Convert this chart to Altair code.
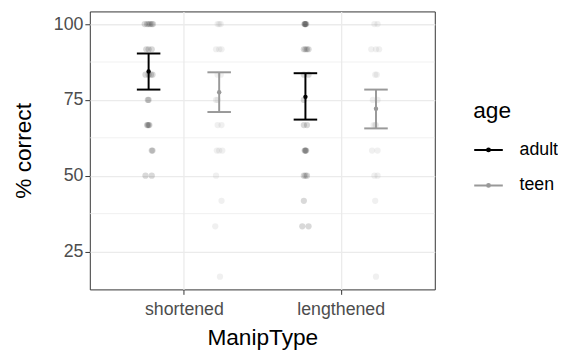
import altair as alt
import pandas as pd

categories = ["shortened", "lengthened"]
ages = ["adult", "teen"]
age_colors = ["#000000", "#999999"]
dodge = {"adult": -0.225, "teen": 0.225}

# raw scores (% correct) per group, with small horizontal jitter (category units)
sa_vals = [100, 100, 100, 100, 100, 100, 91.7, 91.7, 91.7, 83.3, 83.3, 83.3, 83.3,
           75, 75, 66.7, 66.7, 66.7, 66.7, 58.3, 58.3, 50, 50]
sa_jit = [-0.025, -0.01, 0.0, 0.01, 0.02, 0.028, -0.015, 0.0, 0.02, -0.02, 0.0, 0.015, 0.025,
          -0.005, 0.0, -0.01, -0.005, 0.0, 0.005, 0.02, 0.025, -0.02, 0.02]
st_vals = [100, 100, 100, 91.7, 91.7, 91.7, 83.3, 83.3, 75, 75, 66.7, 66.7,
           58.3, 58.3, 58.3, 50, 41.7, 33.3, 16.7]
st_jit = [-0.01, 0.0, 0.01, -0.02, 0.0, 0.015, -0.01, 0.01, -0.02, -0.01, -0.01, 0.015,
          -0.015, 0.0, 0.02, -0.02, 0.015, -0.025, 0.005]
la_vals = [100, 100, 100, 100, 100, 91.7, 91.7, 91.7, 91.7, 83.3, 83.3, 75, 66.7, 66.7,
           58.3, 58.3, 58.3, 58.3, 50, 50, 50, 41.7, 33.3, 33.3]
la_jit = [-0.005, 0.0, 0.005, 0.0, -0.005, -0.01, 0.0, 0.01, 0.02, -0.01, 0.02, -0.01, -0.01, 0.01,
          0.0, -0.005, 0.005, 0.0, -0.01, 0.0, 0.01, -0.01, -0.02, 0.02]
lt_vals = [100, 100, 91.7, 91.7, 91.7, 83.3, 83.3, 75, 75, 66.7, 66.7, 66.7,
           58.3, 58.3, 50, 50, 41.7, 16.7]
lt_jit = [-0.01, 0.01, -0.03, 0.0, 0.02, -0.005, 0.005, -0.02, 0.01, -0.015, -0.005, 0.0,
          -0.025, 0.01, -0.01, 0.01, -0.005, 0.0]

# summary: mean and interval per group
sum_cat = ["shortened", "shortened", "lengthened", "lengthened"]
sum_age = ["adult", "teen", "adult", "teen"]
sum_mean = [84.4, 77.5, 76.0, 72.1]
sum_lo = [78.4, 71.0, 68.5, 65.6]
sum_hi = [90.3, 84.1, 83.8, 78.4]

y_ticks = [25, 50, 75, 100]
y_minor = [37.5, 62.5, 87.5]

groups = [("shortened", "adult", sa_vals, sa_jit), ("shortened", "teen", st_vals, st_jit),
          ("lengthened", "adult", la_vals, la_jit), ("lengthened", "teen", lt_vals, lt_jit)]
rows = []
for cat, age, vals, jits in groups:
    for v, j in zip(vals, jits):
        rows.append({"ManipType": cat, "age": age, "val": v,
                     "pos": categories.index(cat) + 1 + dodge[age] + j})
pts = pd.DataFrame(rows)

summ = pd.DataFrame({"ManipType": sum_cat, "age": sum_age, "mean": sum_mean,
                     "lo": sum_lo, "hi": sum_hi})
summ["pos"] = [categories.index(c) + 1 + dodge[a] for c, a in zip(sum_cat, sum_age)]
summ["cl"] = summ["pos"] - 0.075
summ["cr"] = summ["pos"] + 0.075

minor_df = pd.DataFrame({"y": y_minor})

label_expr = " : ".join(f"datum.value == {i + 1} ? '{c}'" for i, c in enumerate(categories[:-1]))
label_expr += f" : '{categories[-1]}'"

xscale = alt.Scale(domain=[0.4, 2.6], nice=False, zero=False)
yscale = alt.Scale(domain=[12.5, 104.17], nice=False, zero=False)
xaxis = alt.Axis(values=[1, 2], labelExpr=label_expr, title="ManipType", grid=True,
                 labelPadding=6, titlePadding=9)
yaxis = alt.Axis(values=y_ticks, title="% correct", grid=True, labelPadding=2, titlePadding=18)
cscale = alt.Scale(domain=ages, range=age_colors)

legend = alt.Legend(
    title="age", orient="none", legendX=389, legendY=90, padding=0,
    symbolType="M-1,0L1,0 M-0.1,0 A0.1,0.1 0 1,0 0.1,0 A0.1,0.1 0 1,0 -0.1,0",
    symbolSize=841, symbolStrokeWidth=2, symbolOpacity=1,
    rowPadding=11, labelOffset=16,
    titleFontSize=23, titleFontWeight="normal", titleColor="black", titlePadding=12,
    labelFontSize=18, labelColor="black", titleFont="Liberation Sans", labelFont="Liberation Sans",
)

color = alt.Color("age:N", scale=cscale, legend=legend)

minor = alt.Chart(minor_df).mark_rule(color="#EBEBEB", strokeWidth=0.7).encode(
    y=alt.Y("y:Q", scale=yscale, axis=yaxis))

points = alt.Chart(pts).mark_circle(size=40, opacity=0.15).encode(
    x=alt.X("pos:Q", scale=xscale, axis=xaxis),
    y=alt.Y("val:Q", scale=yscale, axis=yaxis),
    color=color,
)

bars = alt.Chart(summ).mark_rule(strokeWidth=2).encode(
    x=alt.X("pos:Q", scale=xscale, axis=xaxis),
    y=alt.Y("lo:Q", scale=yscale, axis=yaxis), y2="hi:Q",
    color=color,
)
cap_lo = alt.Chart(summ).mark_rule(strokeWidth=2).encode(
    x=alt.X("cl:Q", scale=xscale, axis=xaxis), x2="cr:Q",
    y=alt.Y("lo:Q", scale=yscale, axis=yaxis),
    color=color,
)
cap_hi = alt.Chart(summ).mark_rule(strokeWidth=2).encode(
    x=alt.X("cl:Q", scale=xscale, axis=xaxis), x2="cr:Q",
    y=alt.Y("hi:Q", scale=yscale, axis=yaxis),
    color=color,
)
means = alt.Chart(summ).mark_circle(size=20, opacity=1).encode(
    x=alt.X("pos:Q", scale=xscale, axis=xaxis),
    y=alt.Y("mean:Q", scale=yscale, axis=yaxis),
    color=color,
)

chart = alt.layer(minor, bars, points, cap_lo, cap_hi, means).properties(
    width=350, height=282,
    padding={"left": 83, "top": 1, "right": 125, "bottom": 60},
    autosize=alt.AutoSizeParams(type="none"),
).configure_view(stroke="#333333", strokeWidth=1).configure_axis(
    labelFont="Liberation Sans", titleFont="Liberation Sans",
    labelFontSize=18, labelColor="#4D4D4D",
    titleFontSize=23, titleColor="black", titleFontWeight="normal",
    tickColor="#333333", tickSize=5, tickWidth=1, domain=False,
    gridColor="#EBEBEB", gridWidth=1.3,
)

chart.save("out.html", embed_options={"renderer": "svg", "actions": False})
